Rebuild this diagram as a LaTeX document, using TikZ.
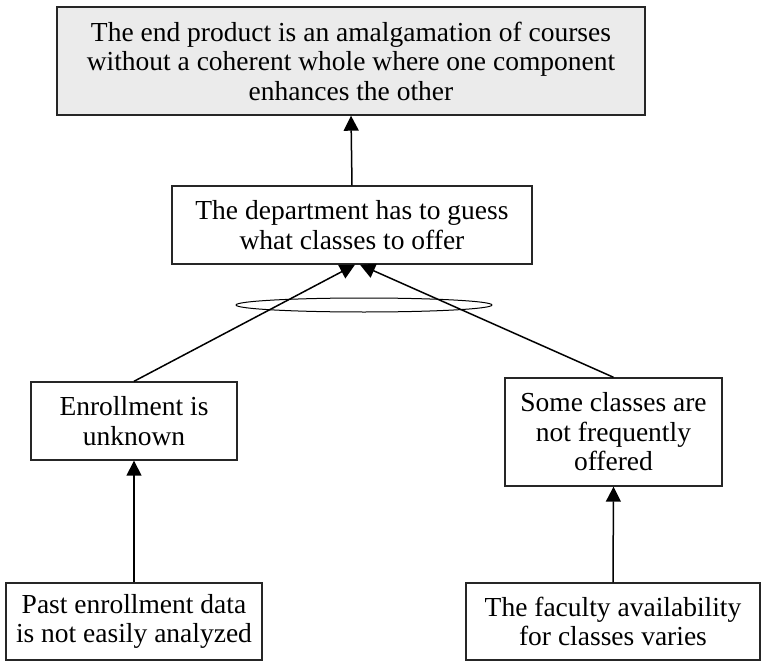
\documentclass[tikz,border=0pt]{standalone}
\usepackage{fontspec}
\setmainfont{Liberation Serif}
\usetikzlibrary{arrows.meta,calc,shapes.geometric}
\begin{document}
\begin{tikzpicture}[x=1pt,y=-1pt,
  box/.style={draw=black!85,line width=1.4pt,rectangle,inner sep=0pt,align=center,
    font=\fontsize{27.5}{29.5}\selectfont},
  link/.style={line width=1.5pt,-{Triangle[length=15pt,width=15pt]}}]
\useasboundingbox (0,0) rectangle (764,661);

% effect at the top
\node[box,fill=black!8,minimum width=588pt,minimum height=108pt] (top) at (351,61)
  {The end product is an amalgamation of courses\\without a coherent whole where one component\\enhances the other};
% intermediate cause
\node[box,minimum width=360pt,minimum height=78pt] (mid) at (352,225)
  {The department has to guess\\what classes to offer};
% two joint causes
\node[box,minimum width=206pt,minimum height=78pt] (enr) at (134,421)
  {Enrollment is\\unknown};
\node[box,minimum width=217pt,minimum height=108pt] (some) at (613.5,432)
  {Some classes are\\not frequently\\offered};
% root causes
\node[box,minimum width=256pt,minimum height=77pt] (past) at (134,621.5)
  {Past enrollment data\\is not easily analyzed};
\node[box,minimum width=294pt,minimum height=77pt] (fac) at (613,621.5)
  {The faculty availability\\for classes varies};

% arrow tips on the lower edge of the intermediate box
\coordinate (tipL) at ($(mid.south)+(3,0)$);
\coordinate (tipR) at ($(mid.south)+(8,0)$);

\draw[link] (mid.north) -- (top.south);
\draw[link] (enr.north) -- (tipL);
\draw[link] (some.north) -- (tipR);
\draw[link] (past.north) -- (enr.south);
\draw[link] (fac.north) -- (some.south);

% "and" ellipse joining the two causes
\node[draw,line width=1pt,ellipse,minimum width=256pt,minimum height=14pt,inner sep=0pt] (joint) at (364,305) {};
\end{tikzpicture}
\end{document}
